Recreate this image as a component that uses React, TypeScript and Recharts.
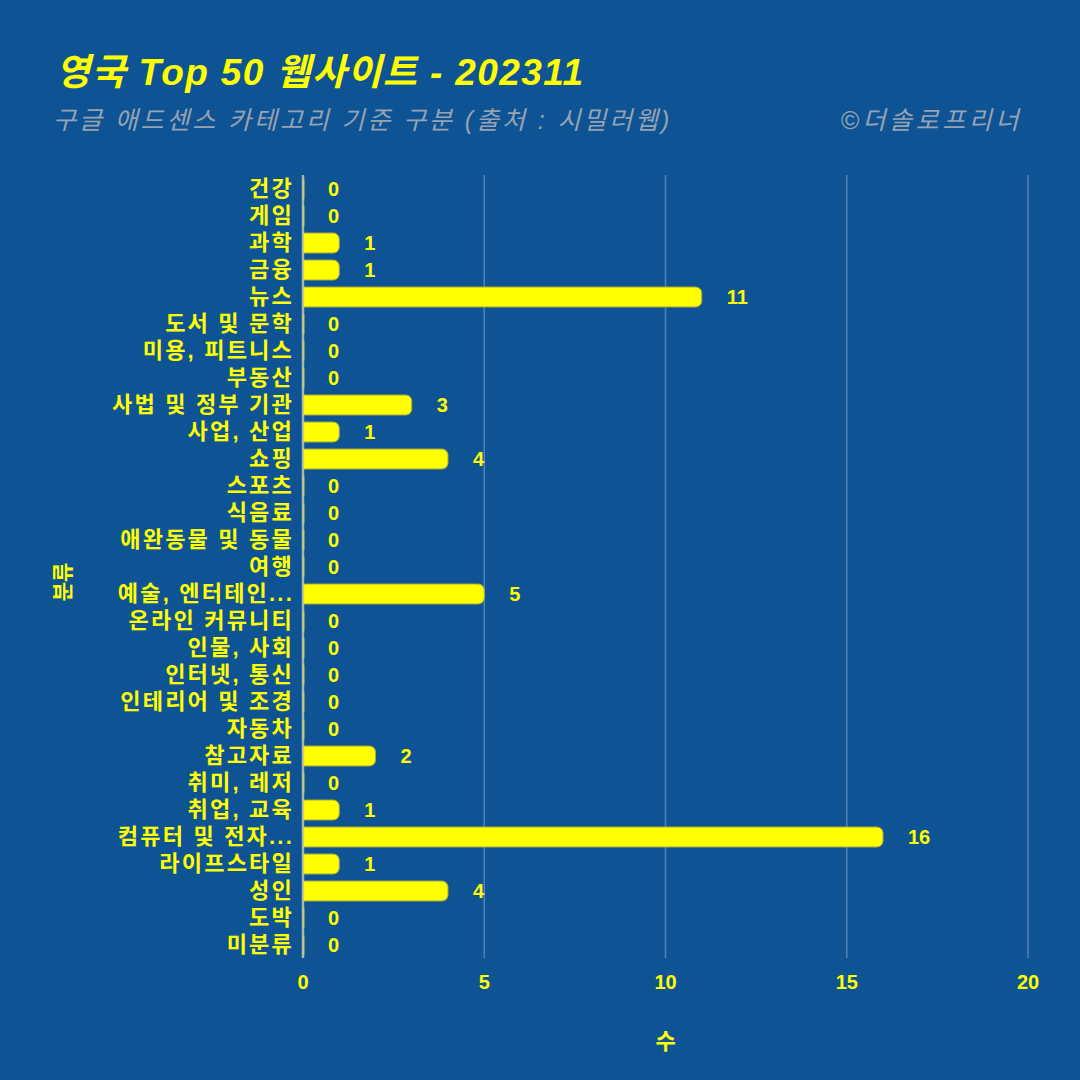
import React from "react";
import {
  BarChart,
  Bar,
  XAxis,
  YAxis,
  CartesianGrid,
  LabelList,
} from "recharts";

// Categories (Google AdSense category) and site counts
const categories = [
  "건강",
  "게임",
  "과학",
  "금융",
  "뉴스",
  "도서 및 문학",
  "미용, 피트니스",
  "부동산",
  "사법 및 정부 기관",
  "사업, 산업",
  "쇼핑",
  "스포츠",
  "식음료",
  "애완동물 및 동물",
  "여행",
  "예술, 엔터테인...",
  "온라인 커뮤니티",
  "인물, 사회",
  "인터넷, 통신",
  "인테리어 및 조경",
  "자동차",
  "참고자료",
  "취미, 레저",
  "취업, 교육",
  "컴퓨터 및 전자...",
  "라이프스타일",
  "성인",
  "도박",
  "미분류",
];

const counts = [
  0, 0, 1, 1, 11, 0, 0, 0, 3, 1, 4, 0, 0, 0, 0, 5, 0, 0, 0, 0, 0, 2, 0, 1, 16,
  1, 4, 0, 0,
];

const xTicks = [0, 5, 10, 15, 20];

const BG = "#0E5394";
const YELLOW = "#FFFF00";
const GREY = "#97a3b3";
const FONT = "'Liberation Sans', 'Noto Sans CJK KR', sans-serif";

const data = categories.map((name, i) => ({ name, value: counts[i] }));

// value label drawn right of each bar end (zeros included)
const ValueLabel = (props: any) => {
  const { x, y, width, height, value } = props;
  const v = Number(value) || 0;
  const ex = Number(x) + (v === 0 ? 0 : Number(width));
  return (
    <text
      x={ex + 25}
      y={Number(y) + Number(height) / 2}
      dy="0.36em"
      fill={YELLOW}
      fontSize={20}
      fontWeight={700}
      fontFamily={FONT}
    >
      {v}
    </text>
  );
};

const YLabel = () => (
  <text
    x={62}
    y={582}
    transform="rotate(-90, 62, 582)"
    textAnchor="middle"
    dy="0.36em"
    fill={YELLOW}
    fontSize={21}
    fontWeight={700}
    fontFamily={FONT}
  >
    분류
  </text>
);

export default function App() {
  return (
    <div
      style={{
        position: "absolute",
        left: 0,
        top: 0,
        width: 1080,
        height: 1080,
        background: BG,
        fontFamily: FONT,
        overflow: "hidden",
      }}
    >
      <div
        style={{
          position: "absolute",
          left: 56,
          top: 54,
          fontSize: 37,
          fontWeight: 700,
          fontStyle: "italic",
          color: YELLOW,
          whiteSpace: "nowrap",
          letterSpacing: 1.4,
          lineHeight: 1,
        }}
      >
        영국 Top 50 웹사이트 - 202311
      </div>
      <div
        style={{
          position: "absolute",
          left: 53,
          top: 108,
          fontSize: 25,
          fontStyle: "italic",
          color: GREY,
          whiteSpace: "nowrap",
          letterSpacing: 2.9,
          lineHeight: 1,
        }}
      >
        구글 애드센스 카테고리 기준 구분 (출처 : 시밀러웹)
      </div>
      <div
        style={{
          position: "absolute",
          right: 58,
          top: 108,
          fontSize: 25,
          fontStyle: "italic",
          color: GREY,
          whiteSpace: "nowrap",
          letterSpacing: 3.6,
          lineHeight: 1,
        }}
      >
        ©더솔로프리너
      </div>

      <BarChart
        width={1080}
        height={1080}
        data={data}
        layout="vertical"
        margin={{ top: 175, right: 52, bottom: 0, left: 0 }}
        style={{ position: "absolute", left: 0, top: 0, fontFamily: FONT }}
      >
        <CartesianGrid
          horizontal={false}
          stroke="rgba(255,255,255,0.28)"
          strokeWidth={1.5}
        />
        <XAxis
          type="number"
          domain={[0, 20]}
          ticks={xTicks}
          height={122}
          tickSize={0}
          tickMargin={17}
          axisLine={false}
          tick={{ fill: YELLOW, fontSize: 20, fontWeight: 700 }}
          label={{
            value: "수",
            position: "insideBottom",
            offset: 31,
            fill: YELLOW,
            fontSize: 22,
            fontWeight: 700,
          }}
        />
        <YAxis
          type="category"
          dataKey="name"
          width={303}
          interval={0}
          tickSize={0}
          tickMargin={9}
          axisLine={{ stroke: "rgba(200,205,170,0.75)", strokeWidth: 2.5 }}
          tick={{
            fill: YELLOW,
            fontSize: 22,
            fontWeight: 700,
            letterSpacing: 2.2,
          }}
          label={{ content: YLabel }}
        />
        <Bar
          dataKey="value"
          fill={YELLOW}
          stroke="#a8a83a"
          strokeWidth={1}
          barSize={20}
          minPointSize={1}
          radius={[0, 6, 6, 0]}
          isAnimationActive={false}
        >
          <LabelList dataKey="value" content={ValueLabel} />
        </Bar>
      </BarChart>
    </div>
  );
}
